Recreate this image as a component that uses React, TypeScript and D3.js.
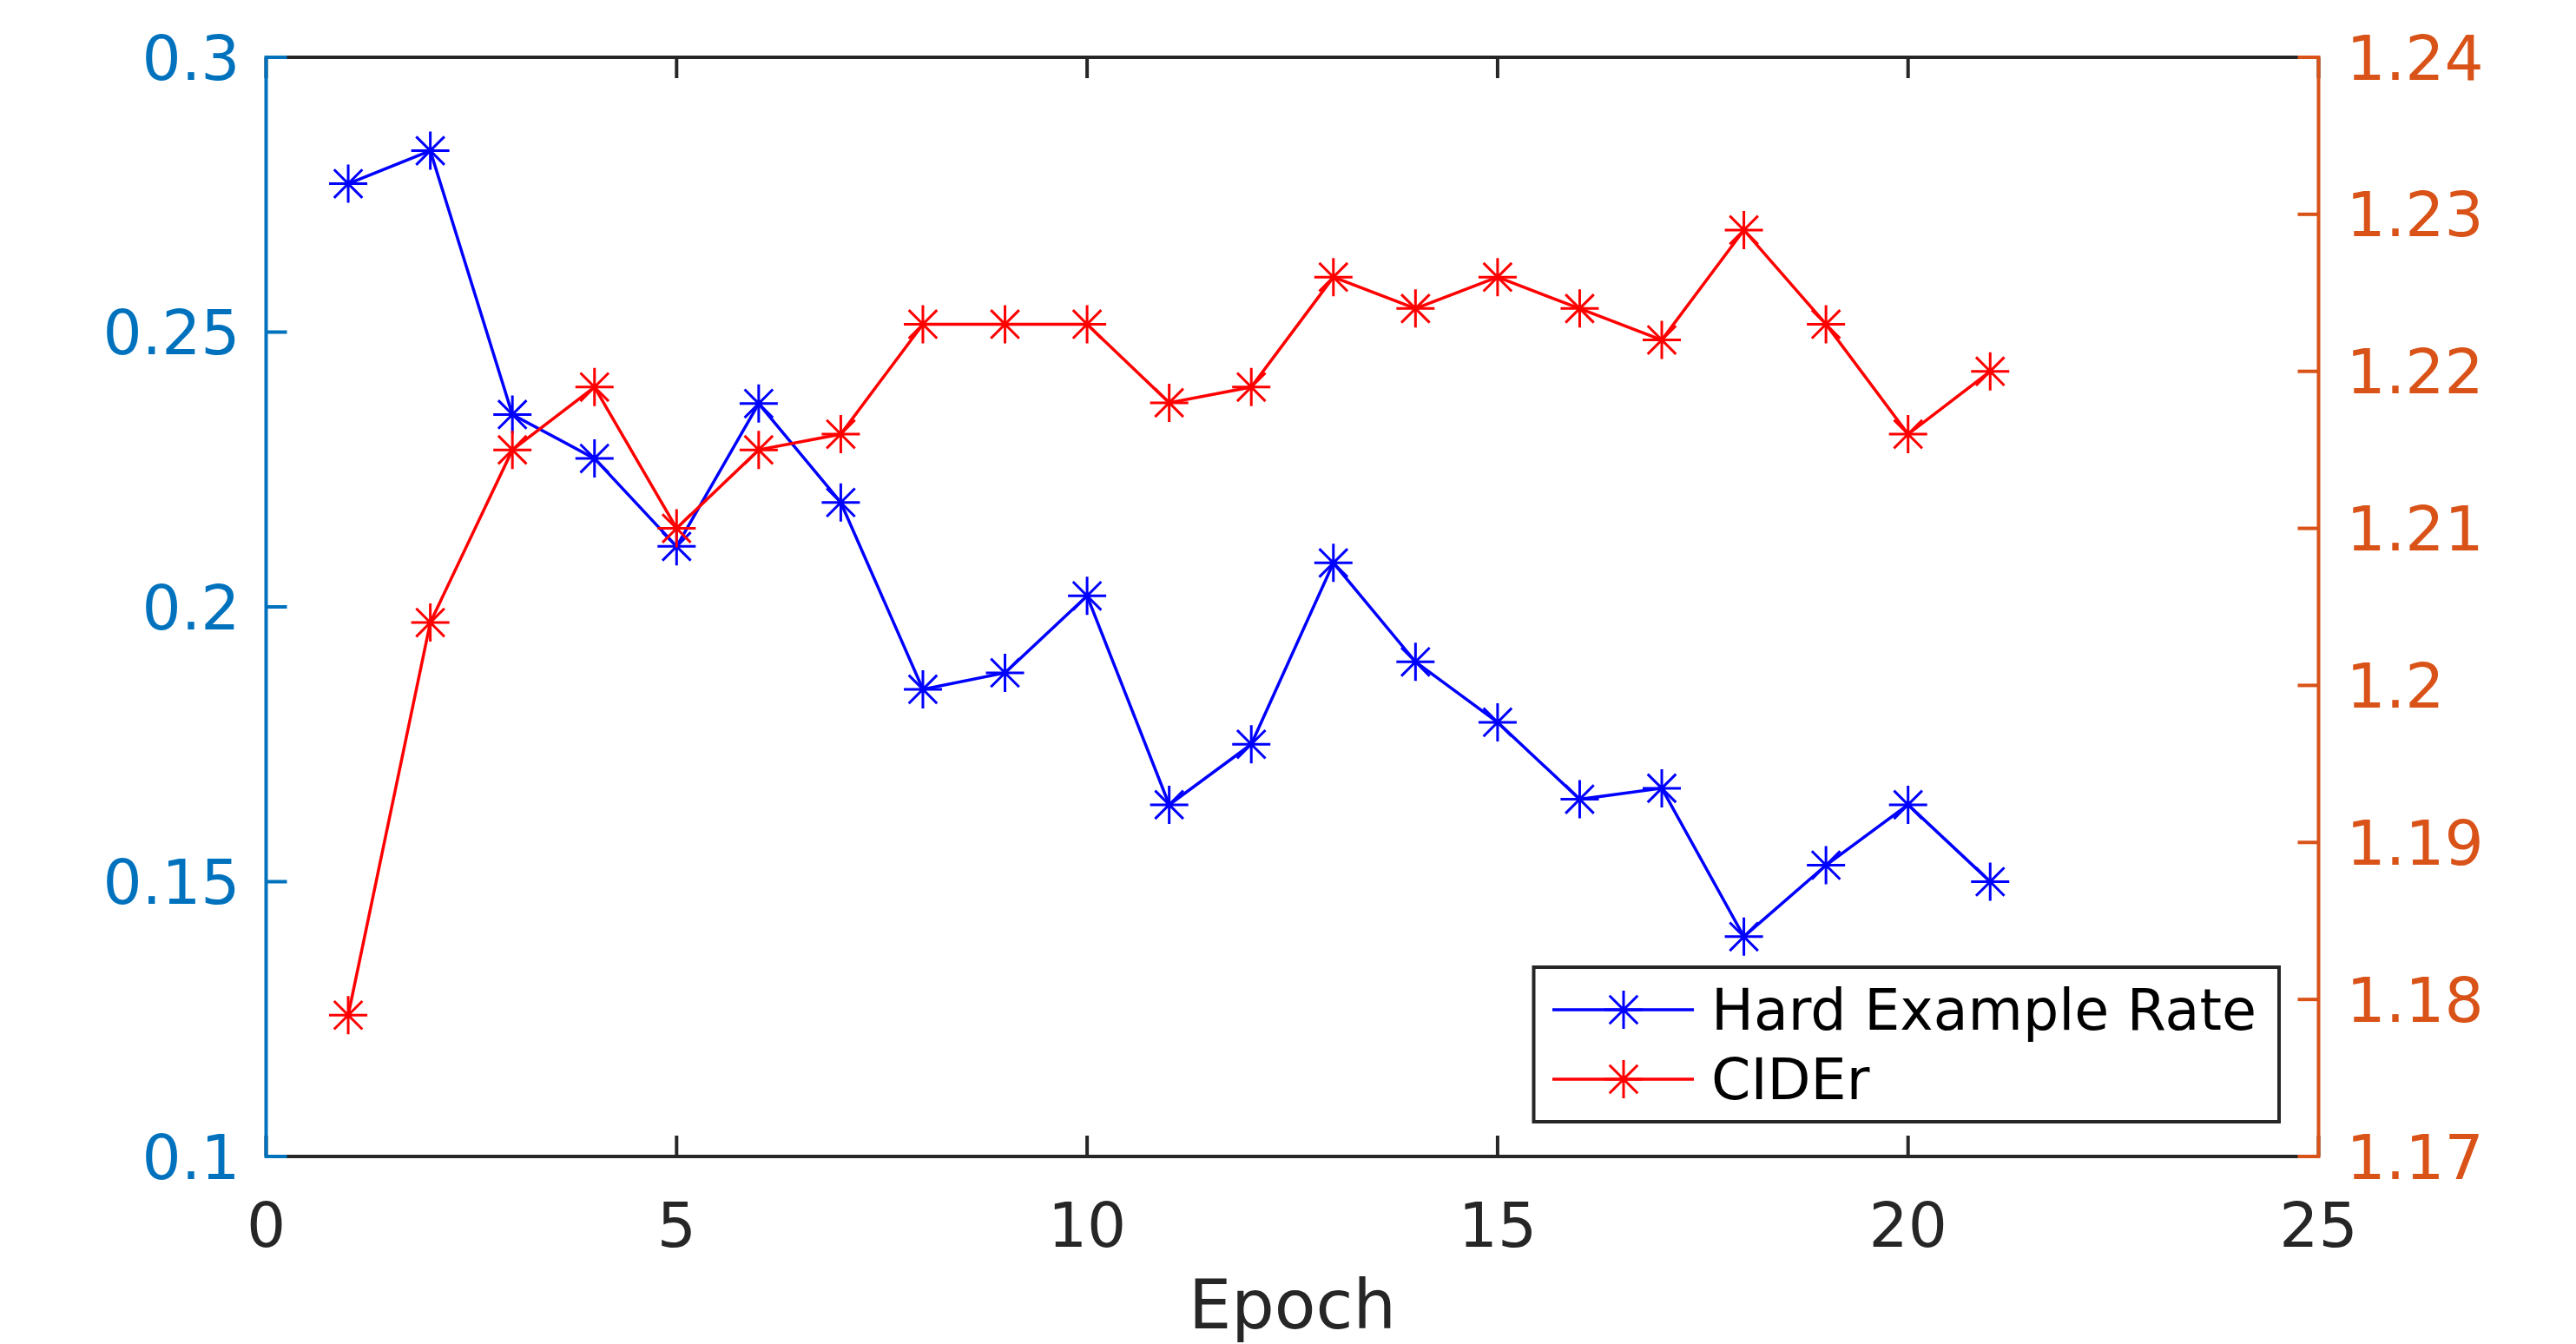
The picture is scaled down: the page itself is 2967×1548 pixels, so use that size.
import React from "react";
import * as d3 from "d3";

const epochs = [1,2,3,4,5,6,7,8,9,10,11,12,13,14,15,16,17,18,19,20,21];
const hardRate = [0.277,0.283,0.235,0.227,0.211,0.237,0.219,0.185,0.188,0.202,0.164,0.175,0.208,0.190,0.179,0.165,0.167,0.140,0.153,0.164,0.150];
const cider = [1.179,1.204,1.215,1.219,1.210,1.215,1.216,1.223,1.223,1.223,1.218,1.219,1.226,1.224,1.226,1.224,1.222,1.229,1.223,1.216,1.220];
const xTicks = [0,5,10,15,20,25];
const yLeftTicks = [0.1,0.15,0.2,0.25,0.3];
const yRightTicks = [1.17,1.18,1.19,1.2,1.21,1.22,1.23,1.24];
const seriesNames = ["Hard Example Rate", "CIDEr"];

const W = 2967, H = 1548;
const L = 306.5, R = 2670.5, T = 66, B = 1332;
const FONT = "'DejaVu Sans', sans-serif";
const AX = "#262626";
const LEFTC = "#0072BD";
const RIGHTC = "#D95319";
const BLUE = "#0000FF";
const RED = "#FF0000";
const TICK = 24;
const SW = 4;

function star(cx: number, cy: number, r: number) {
  const d = r * 0.74;
  return `M${cx - r},${cy}L${cx + r},${cy}M${cx},${cy - r}L${cx},${cy + r}` +
    `M${cx - d},${cy - d}L${cx + d},${cy + d}M${cx - d},${cy + d}L${cx + d},${cy - d}`;
}

export default function App() {
  const x = d3.scaleLinear().domain([0, 25]).range([L, R]);
  const yL = d3.scaleLinear().domain([0.1, 0.3]).range([B, T]);
  const yR = d3.scaleLinear().domain([1.17, 1.24]).range([B, T]);
  const lineL = d3.line<number>().x((_, i) => x(epochs[i])).y((d) => yL(d));
  const lineR = d3.line<number>().x((_, i) => x(epochs[i])).y((d) => yR(d));
  const fmt = (v: number) => String(+v.toFixed(3));

  const lx0 = 1766.5, lx1 = 2625, ly0 = 1114, ly1 = 1292;
  const rows = [1163, 1243];

  return (
    <svg width={W} height={H} style={{ position: "absolute", left: 0, top: 0, background: "#fff" }}>
      <rect x={0} y={0} width={W} height={H} fill="#fff" />
      <line x1={L} x2={R} y1={T} y2={T} stroke={AX} strokeWidth={SW} />
      <line x1={L} x2={R} y1={B} y2={B} stroke={AX} strokeWidth={SW} />
      {xTicks.map((t) => (
        <g key={"xt" + t}>
          <line x1={x(t)} x2={x(t)} y1={B} y2={B - TICK} stroke={AX} strokeWidth={SW} />
          <line x1={x(t)} x2={x(t)} y1={T} y2={T + TICK} stroke={AX} strokeWidth={SW} />
          <text x={x(t)} y={1436} textAnchor="middle" fontFamily={FONT} fontSize={71} fill={AX}>{t}</text>
        </g>
      ))}
      <line x1={L} x2={L} y1={T - SW / 2} y2={B + SW / 2} stroke={LEFTC} strokeWidth={SW} />
      {yLeftTicks.map((t) => (
        <g key={"yl" + t}>
          <line x1={L} x2={L + TICK} y1={yL(t)} y2={yL(t)} stroke={LEFTC} strokeWidth={SW} />
          <text x={L - 30} y={yL(t)} dy="0.36em" textAnchor="end" fontFamily={FONT} fontSize={71} fill={LEFTC}>{fmt(t)}</text>
        </g>
      ))}
      <line x1={R} x2={R} y1={T - SW / 2} y2={B + SW / 2} stroke={RIGHTC} strokeWidth={SW} />
      {yRightTicks.map((t) => (
        <g key={"yr" + t}>
          <line x1={R} x2={R - TICK} y1={yR(t)} y2={yR(t)} stroke={RIGHTC} strokeWidth={SW} />
          <text x={R + 32} y={yR(t)} dy="0.36em" textAnchor="start" fontFamily={FONT} fontSize={71} fill={RIGHTC}>{fmt(t)}</text>
        </g>
      ))}
      <text x={(L + R) / 2} y={1530} textAnchor="middle" fontFamily={FONT} fontSize={78} fill={AX}>Epoch</text>

      <path d={lineL(hardRate) || ""} fill="none" stroke={BLUE} strokeWidth={3.5} />
      {hardRate.map((v, i) => (
        <path key={"mb" + i} d={star(x(epochs[i]), yL(v), 22)} stroke={BLUE} strokeWidth={3} fill="none" />
      ))}
      <path d={lineR(cider) || ""} fill="none" stroke={RED} strokeWidth={3.5} />
      {cider.map((v, i) => (
        <path key={"mr" + i} d={star(x(epochs[i]), yR(v), 22)} stroke={RED} strokeWidth={3} fill="none" />
      ))}

      <rect x={lx0} y={ly0} width={lx1 - lx0} height={ly1 - ly0} fill="#fff" stroke={AX} strokeWidth={SW} />
      {seriesNames.map((name, i) => {
        const c = i === 0 ? BLUE : RED;
        return (
          <g key={"lg" + i}>
            <line x1={1788} x2={1951} y1={rows[i]} y2={rows[i]} stroke={c} strokeWidth={3.5} />
            <path d={star(1870, rows[i], 22)} stroke={c} strokeWidth={3} fill="none" />
            <text x={1971} y={rows[i]} dy="0.36em" fontFamily={FONT} fontSize={65} fill="#000">{name}</text>
          </g>
        );
      })}
    </svg>
  );
}
